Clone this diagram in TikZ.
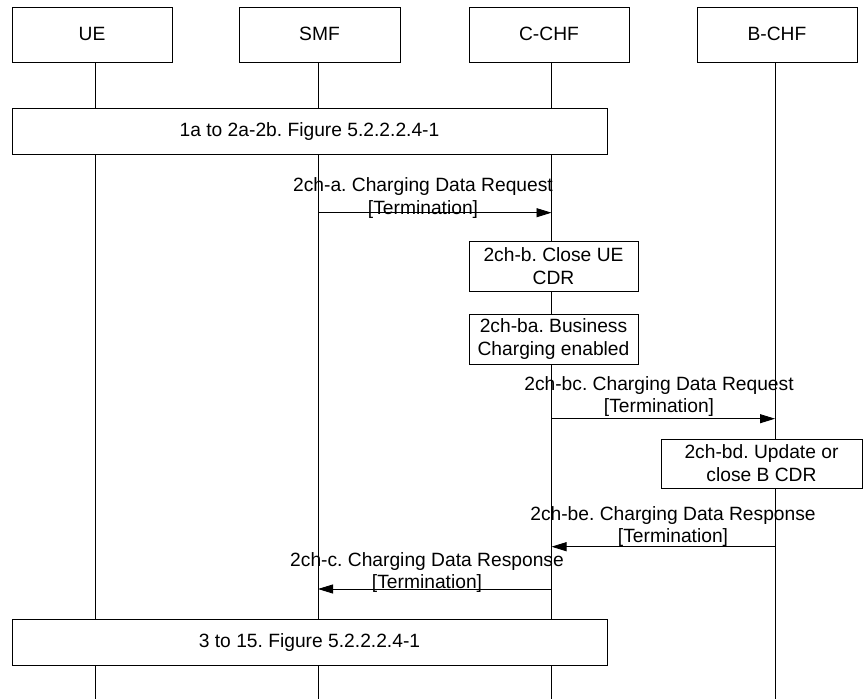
\documentclass[tikz,border=0pt]{standalone}
\usepackage{fontspec}
\setmainfont{Liberation Sans}
\usetikzlibrary{arrows.meta}
\begin{document}
\frenchspacing
\begin{tikzpicture}[x=1bp,y=-1bp,
  every node/.style={font=\fontsize{19.3}{23}\selectfont},
  hdr/.style={draw,line width=0.9bp,fill=white,minimum width=160bp,minimum height=55bp,inner sep=0pt,text depth=1bp},
  wide/.style={draw,line width=0.9bp,fill=white,minimum width=595bp,minimum height=46bp,inner sep=0pt,text height=14bp,text depth=3bp},
  actbox/.style={draw,line width=0.9bp,fill=white,align=center,inner sep=0pt},
  lifeline/.style={line width=0.9bp},
  msg/.style={line width=0.9bp,-{Triangle[length=15bp,width=9bp]}},
  msgtxt/.style={align=center,inner sep=0pt}]
\useasboundingbox (0,0) rectangle (863,699);
\fill[white] (0,0) rectangle (863,699);
% lifeline coordinates
\coordinate (ueT) at (95,62);   \coordinate (ueB) at (95,699);
\coordinate (smfT) at (318,62); \coordinate (smfB) at (318,699);
\coordinate (cT) at (551.5,62); \coordinate (cB) at (551.5,699);
\coordinate (bT) at (775,62);   \coordinate (bB) at (775,699);
\draw[lifeline] (ueT) -- (ueB);
\draw[lifeline] (smfT) -- (smfB);
\draw[lifeline] (cT) -- (cB);
\draw[lifeline] (bT) -- (bB);
% headers
\node[hdr] (ue) at (92,34.5) {UE};
\node[hdr,minimum width=161bp] (smf) at (319.5,34.5) {SMF};
\node[hdr] (cchf) at (549,34.5) {C-CHF};
\node[hdr] (bchf) at (777,34.5) {B-CHF};
% wide boxes
\node[wide] (step1) at (309.5,131) {1a to 2a-2b. Figure 5.2.2.2.4-1};
\node[wide] (step3) at (309.5,642) {3 to 15. Figure 5.2.2.2.4-1};
% action boxes
\node[actbox,minimum width=169bp,minimum height=50bp] (closeue) at (553.5,266) {2ch-b. Close UE\\CDR};
\node[actbox,minimum width=169bp,minimum height=50bp] (bizch) at (553.5,339) {2ch-ba. Business\\Charging enabled};
\node[actbox,minimum width=201bp,minimum height=49bp] (updb) at (761.5,463.5) {2ch-bd. Update or\\close B CDR};
% messages
\coordinate (m1s) at (318,212.7);   \coordinate (m1e) at (551.5,212.7);
\coordinate (m2s) at (551.5,418.7); \coordinate (m2e) at (775,418.7);
\coordinate (m3s) at (775,546.7);   \coordinate (m3e) at (551.5,546.7);
\coordinate (m4s) at (551.5,589);   \coordinate (m4e) at (318,589);
\draw[msg] (m1s) -- (m1e);
\draw[msg] (m2s) -- (m2e);
\draw[msg] (m3s) -- (m3e);
\draw[msg] (m4s) -- (m4e);
\node[msgtxt] (t1) at (423,198) {2ch-a. Charging Data Request\\[0pt][Termination]};
\node[msgtxt] (t2) at (659,396.5) {2ch-bc. Charging Data Request\\[0pt][Termination]};
\node[msgtxt] (t3) at (673,526.5) {2ch-be. Charging Data Response\\[0pt][Termination]};
\node[msgtxt] (t4) at (427,572.5) {2ch-c. Charging Data Response\\[0pt][Termination]};
\end{tikzpicture}
\end{document}
